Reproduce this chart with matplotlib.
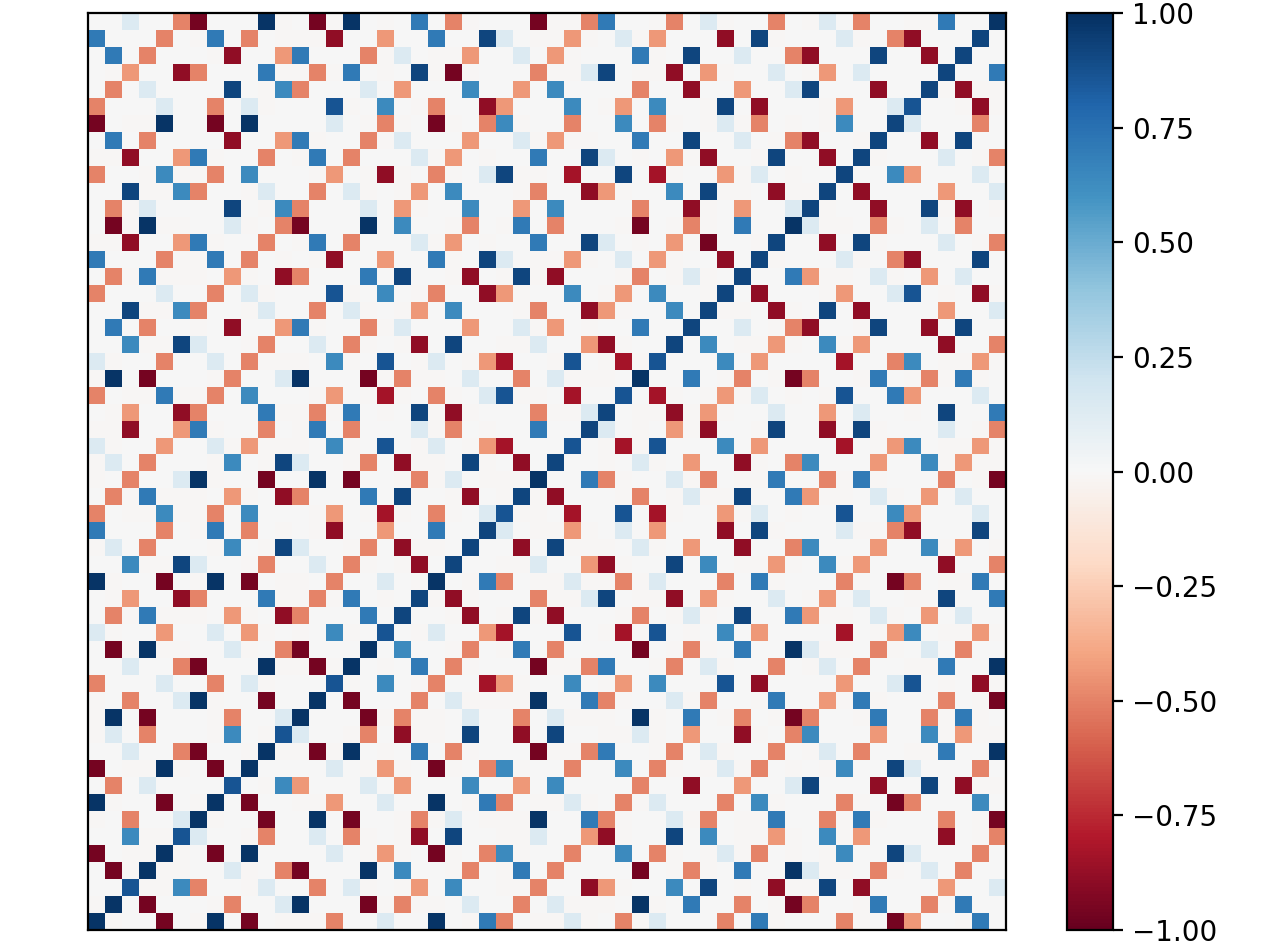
import numpy as np
import matplotlib
matplotlib.use("Agg")
import matplotlib.pyplot as plt

# value read for each symbol used in the matrix rows
LEVELS = {
    ".": 0.004, ",": -0.014, "l": 0.14,
    "c": 0.64, "b": 0.71, "Y": 0.86, "B": 0.92, "Z": 0.98,
    "p": -0.43, "o": -0.50, "Q": -0.83, "R": -0.89, "X": -0.96,
}

# matrix rows, top of the picture first
MATRIX_ROWS = [
    "..l..oX...Z,.X,Z., .b.o,...X,,ob..,o. l,..o.,l.o..,,b..Z",
    "b...o.,b.o.,,,R..p ..b..Bl.,,p,.l,p.. .R.B,...l,.oR...B.",
    ".b.o...,R..pb...o, l.,,p..l.p,...b,.B ..l..oR...B..R.B..",
    ".,p..Ro...b,,o,b., .B,X,...o,,lB.,,R. p,..l.,p.l....B..b",
    ".o.l....B.,co...l. p...c..p.c....o..R ..p..lB...R..B,R,,",
    "o...l..o.l,...Y,.c .,o..Rp...c.,p.c.. ,B.R...,p..lY..,R,",
    "X.,,Z..X.Z....l.,o ,.X,.oc,..o..c.o,. ,l,o.,.,c..Bl...o.",
    ".b.o....R..pb,..o, l...p..l,p,,..b..B ..l.,oR..,B..R.B..",
    ",,R..pb,..o.,b.o.. .l,p.,..b..Bl.,.p, R..,B..R.B,...l.,o",
    "o..,c,,o.c...,p.,R ,.o,.lB,,.Q..B.Q,. .p,l.,..B..cp...l.",
    "..B,,co..,l..o.l,. ,p.c...,o..Rp,..c. B,,.R,,B.R....p..l",
    ".o,l....B.,co...l. p,..c..p.c....o..R ,.p..lB,..R..B,R.,",
    ".X,Z,,..l,.oX...Z. c..,o.,b.o...,X.,o ,.b..Zl,,.o,.l.o..",
    ",,R..pb,..o.,b.o.. .l,p.,..b..Bl.,.p, X..,B..R.B,...l.,o",
    "b...o,,b.o.,.,R..p ..b,.Bl.,,p,.l.p,. .R.B,...l,.oR...B.",
    ".o,b,,,.p,.Ro...b. B..,R.,B,R...,o.,l ,.B..bp,,.l,.p.l..",
    "o...l..o.l,...Y,.c .,o..Rp,..c.,p.c.. ,B.R...,p..lY.,.R,",
    "..B,,co..,l..o.l,. ,p.c...,o..Rp,..c. B,,.R,.B.R....p..l",
    ".b.o..,.R..pb,..o, l...p..l,p.,..b..B ..l.,oR..,B..R.B..",
    "..c,,Bl..,o..l.o,. ,R.B..,,l..pR,..B. c.,,p,.c,p....R..o",
    "l,..o..l.o,,,.c,.Y .,l.,pQ..,Y.,Q,Y.. .c.p....Q..oc.,,p,",
    ",Z.X...,o..lZ...X, o,,.l..o.l,,,.Z..b .,o.,Xo..,b.,o,b,.",
    "o.,,b,,o.c...,p.,Q ,.o,.lY,,.Q..Y.Q,. ,p,l.,.,Y..bp...l.",
    ".,p..Ro...b,,o,b., .B,R,...o,,lB.,,R, p,..l..p.l..,.B..b",
    ",,R..pb,..o.,b.o.. .l,o.,..b..Bl.,.p, R..,B..R.B,...l.,o",
    "l,..p..l,p,,,.c,.Y .,l.,pQ...Y.,Q,Y.. .c.p....Q.,pc.,,p,",
    ",l.o...,c.,Bl..,o. R,,.B,.R.B..,.l,.p ..R,.oc...p..c,p,,",
    ",.o..lZ,..X..Z.X.. ,o,l.,,,Z..bo,..l, o.,,b..o,b,...o.,X",
    ".o,b,,,.p,.Ro...b. B..,R.,B,R...,o.,l ,,B..bp,,.l,.p.l..",
    "o.,,c,,o.c...,p.,Q ,.o,.lY,,.Q..Y.Q,. .p,l.,..Y..cp...l.",
    "b...o.,b.o.,.,R..p ..b..Bl.,,p,.l.p.. .R.B,...l,,oR...B.",
    ",l.o...,c.,Bl..,o. R,,.B..R.B,,,.l,.p ..R..oc...p..c,p.,",
    "..c,,Bl..,o..l.o,. ,R.B..,,l..pR,..B. c.,,p,.c,p....R..o",
    "Z,..X.,Z.X.,,.o..l .,Z.,bo.,,l,,o,l.. .o.b,...o,.Xo.,,b.",
    ".,p..Ro...b,,o,b., .B,R,...o,,lB.,,R. p,..l.,p.l..,,B..b",
    ".o,b,,,.p,.Ro...b. B..,R.,B,R...,o.,l ,.B..bp,,.l,.p.l..",
    "l,..p..l.p,.,.c,.Y .,l..pQ...Y.,Q,Y., .c.p....Q.,pc.,,p,",
    ".X,Z,,..l,.oX...Z. c..,o.,b.o....X.,o ,.b..Zl,,.o,.l.o..",
    "..l..oX...Z,,X,Z., .b.o,...X,,ob..,o. l,..o.,l.o..,,b..Z",
    "o...l..o.l,...Y,.c .,o..Qp,..c.,p.c.. .Y.R....p..lY.,.R,",
    ",.o..lZ,..X..Z.X.. .o.l,,,,Z..bo,..l, o..,b..p,b,...o.,X",
    ",Z.X...,o..lZ...X, o,,.l..o.l,,,.Z,.b .,o.,Xo..,b..o,b,.",
    ",l.o...,c.,Yl..,o. R,,.B..R.B..,,l,.p ..R,.oc...p..c,p,,",
    "..l..oX..,Z,,X,Z., .b.o,...X,,ob..,o. l,..o.,l.o..,,b..Z",
    "X.,,Z,.X.Z....l.,p ,.X,.oc,..o..c.o,. ,l,o.,.,c..Bl...o.",
    ".o.l....Y.,cp...l. p...c..p.c....o..R ..p..lB...R..B.R,,",
    "Z,..X.,Z.X..,,p..l ..Z.,bo.,,l,.o,l.. .o.c,...o,.Xo...c.",
    ",.o..lZ,..X..Z.X.. ,o,l.,,,Z..bo,..l, o.,,b..o,b,...o.,X",
    "..c,,Yl..,o..l.o,. ,R.B..,,l..pR,..B. c.,,p,.c,p....R.,o",
    "X.,,Z,.X.Z....l.,p ,.X,.oc,..o..c.o,. ,l,o.,.,c..Bl...o.",
    ".X,Z,,..l,.oX...Z. c..,o.,b.o....X.,o ,.b..Zl,,.o,.l.o..",
    "..Y,,co..,l..o.l,. ,p.c..,,o..Rp,..c. B.,.R,,B.R....p..l",
    ",Z.X...,o..lZ...X, o,,.l..o.l,,,.Z,.b ..o.,Xo..,b..o,b..",
    "Z,..X.,Z.X.,,,o..l ..Z.,bo.,,l,.o,l.. .o.b,...o,.Xp..,b.",
]
TICKS = [-1.00, -0.75, -0.50, -0.25, 0.00, 0.25, 0.50, 0.75, 1.00]

rows = [r.replace(" ", "") for r in MATRIX_ROWS]
bad = [(i, len(r)) for i, r in enumerate(rows) if len(r) != 54]
if bad or len(rows) != 54:
    raise SystemExit(f"bad rows {bad} total {len(rows)}")
values = np.array([[LEVELS[ch] for ch in r] for r in rows])

W, H = 1280, 944
fig = plt.figure(figsize=(W / 200, H / 200), dpi=200)
ax = fig.add_axes([88 / W, 1 - 930 / H, (1006 - 88) / W, (930 - 13) / H])
im = ax.imshow(values, cmap="RdBu", vmin=-1, vmax=1, aspect="auto", interpolation="nearest")
ax.set_xticks([])
ax.set_yticks([])

cax = fig.add_axes([1067 / W, 1 - 930 / H, (1113 - 1067) / W, (930 - 13) / H])
cbar = fig.colorbar(im, cax=cax)
cbar.set_ticks(TICKS)
cbar.set_ticklabels([f"{t:.2f}".replace("-", "\u2212") for t in TICKS])

fig.savefig("out.png", dpi=200)
